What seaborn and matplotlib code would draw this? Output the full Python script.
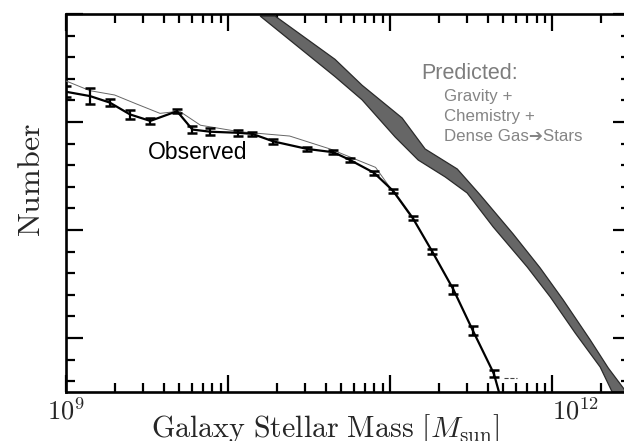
import numpy as np
import pandas as pd
import matplotlib
matplotlib.use("Agg")
import matplotlib.pyplot as plt
from matplotlib.ticker import FixedLocator, MultipleLocator, LogLocator, NullFormatter, FixedFormatter
import seaborn as sns

# ---------------- data ----------------
# observed stellar mass function: log10(M/Msun), log10(number), error
obs_logm = [9.00, 9.148, 9.27, 9.395, 9.52, 9.685, 9.78, 9.89, 10.06, 10.15,
            10.28, 10.49, 10.65, 10.75, 10.90, 11.02, 11.14, 11.26, 11.39,
            11.51, 11.64]
obs_logn = [2.28, 2.24, 2.18, 2.07, 2.01, 2.10, 1.93, 1.91, 1.90, 1.89,
            1.82, 1.75, 1.72, 1.65, 1.53, 1.36, 1.11, 0.80, 0.45,
            0.07, -0.33]
obs_err = [0.05, 0.075, 0.03, 0.04, 0.03, 0.02, 0.03, 0.03, 0.03, 0.02,
           0.02, 0.02, 0.02, 0.02, 0.02, 0.02, 0.02, 0.02, 0.04,
           0.04, 0.03]
# tail of the observed line below the frame
tail_logm = [11.64, 11.69]
tail_logn = [-0.33, -0.60]

# second (thin) observed estimate
obs2_logm = [9.00, 9.148, 9.30, 9.43, 9.58, 9.70, 9.83, 10.07, 10.38, 10.63,
             10.91, 11.12]
obs2_logn = [2.38, 2.29, 2.25, 2.17, 2.08, 2.10, 1.97, 1.91, 1.87, 1.75,
             1.58, 1.14]

# predicted band (upper/right edge and lower/left edge)
pred_up_logm = [10.290, 10.660, 10.827, 11.074, 11.216, 11.414, 11.556, 11.759,
                11.926, 12.068, 12.235, 12.346, 12.457]
pred_up_logn = [2.981, 2.580, 2.340, 2.037, 1.750, 1.565, 1.324, 0.963,
                0.648, 0.352, -0.019, -0.278, -0.50]
pred_lo_logm = [10.198, 10.660, 10.827, 11.031, 11.173, 11.340, 11.475, 11.636,
                11.846, 11.988, 12.142, 12.296, 12.370]
pred_lo_logn = [2.981, 2.420, 2.205, 1.861, 1.648, 1.491, 1.343, 1.028,
                0.657, 0.380, 0.046, -0.269, -0.50]

xtick_vals = [1e9, 1e10, 1e11, 1e12]
xtick_labels = [r"$10^{9}$", "", "", r"$10^{12}$"]

# ---------------- style ----------------
sns.set_style("white")
plt.rcParams["mathtext.fontset"] = "cm"
plt.rcParams["font.family"] = ["Liberation Sans", "DejaVu Sans"]

fig = plt.figure(figsize=(6.24, 4.41), dpi=100)
ax = fig.add_axes([66 / 624, 49 / 441, 564 / 624, 378 / 441])
ax.set_xscale("log")

# predicted band
band_x = list(10 ** np.array(pred_up_logm)) + list(10 ** np.array(pred_lo_logm))[::-1]
band_y = list(pred_up_logn) + list(pred_lo_logn)[::-1]
ax.fill(band_x, band_y, facecolor="#666666", edgecolor="#2a2a2a", lw=0.9, zorder=2)

# observed
df2 = pd.DataFrame({"m": 10 ** np.array(obs2_logm), "n": obs2_logn})
sns.lineplot(data=df2, x="m", y="n", ax=ax, color="#666666", lw=0.7, zorder=3)

df = pd.DataFrame({"m": 10 ** np.array(obs_logm), "n": obs_logn, "e": obs_err})
sns.lineplot(data=df, x="m", y="n", ax=ax, color="black", lw=1.6, zorder=4)
dft = pd.DataFrame({"m": 10 ** np.array(tail_logm), "n": tail_logn})
sns.lineplot(data=dft, x="m", y="n", ax=ax, color="black", lw=1.6, zorder=4)
ax.errorbar(df["m"], df["n"], yerr=df["e"], fmt="none", ecolor="black",
            elinewidth=1.6, capsize=3.8, capthick=1.8, zorder=5)

# small dashed fragment near the bottom
ax.plot(10 ** np.array([11.70, 11.78]), [-0.37, -0.37], color="#444444",
        lw=0.8, ls="--", zorder=3)

ax.set_xlim(1e9, 10 ** 12.48)
ax.set_ylim(-0.5, 3.0)

# ticks
ax.xaxis.set_major_locator(FixedLocator(xtick_vals))
ax.xaxis.set_major_formatter(FixedFormatter(xtick_labels))
ax.xaxis.set_minor_locator(LogLocator(base=10, subs=np.arange(2, 10)))
ax.xaxis.set_minor_formatter(NullFormatter())
ax.yaxis.set_major_locator(MultipleLocator(1.0))
ax.yaxis.set_minor_locator(MultipleLocator(0.2))
ax.yaxis.set_major_formatter(NullFormatter())

ax.tick_params(which="both", direction="in", top=True, right=True,
               bottom=True, left=True, color="black")
ax.tick_params(which="major", length=12.5, width=1.6, labelsize=19, pad=4)
ax.tick_params(which="minor", length=6.5, width=1.6)
for lab in ax.get_xticklabels():
    if "12" in lab.get_text():
        lab.set_horizontalalignment("left")

for sp in ax.spines.values():
    sp.set_linewidth(1.9)
    sp.set_color("black")

ax.set_xlabel(r"$\mathrm{Galaxy\ Stellar\ Mass}\ [M_{\mathrm{sun}}]$",
              fontsize=21.6, labelpad=-8.5, x=0.459)
ax.set_ylabel(r"$\mathrm{Number}$", fontsize=23, labelpad=10, y=0.56)

# annotations
ax.text(10 ** 9.505, 1.72, "Observed", fontsize=16.5, color="black",
        ha="left", va="center", zorder=6)
ax.text(10 ** 11.195, 2.45, "Predicted:", fontsize=15.5, color="#7d7d7d",
        ha="left", va="center")
sub_lines = ["Gravity +", "Chemistry +", "Dense Gas\u2794Stars"]
for i, t in enumerate(sub_lines):
    ax.text(10 ** 11.33, 2.24 - i * 0.185, t, fontsize=12.2, color="#858585",
            ha="left", va="center", family=["Liberation Sans", "DejaVu Sans"])

fig.savefig("out.png", dpi=100)
